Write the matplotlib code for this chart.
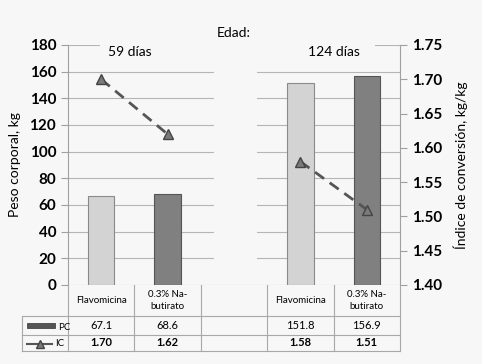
import matplotlib.pyplot as plt
import matplotlib.transforms as mtransforms
from matplotlib.patches import Rectangle
from matplotlib.lines import Line2D

# datos
grupos = ['59 días', '124 días']
pos = [0, 1, 3, 4]           # posicion 2 vacia (separador)
pc = [67.1, 68.6, 151.8, 156.9]
ic = [1.70, 1.62, 1.58, 1.51]
etiquetas = ['Flavomicina', '0.3% Na-\nbutirato', '', 'Flavomicina', '0.3% Na-\nbutirato']

bg = '#f7f7f7'
plt.rcParams['font.family'] = ['Lato', 'DejaVu Sans']

fig = plt.figure(figsize=(4.82, 3.64), dpi=100, facecolor=bg)
ax = fig.add_axes([68/482, 1-285/364, 332/482, 240/364])
ax.set_facecolor(bg)
ax2 = ax.twinx()

# barras PC
cols = ['#d3d3d3', '#808080', '#d3d3d3', '#808080']
edges = ['#8a8a8a', '#555555', '#8a8a8a', '#555555']
ax.bar(pos, pc, width=0.4, color=cols, edgecolor=edges, linewidth=0.8, zorder=3)
ax.set_xlim(-0.5, 4.5)
ax.set_ylim(0, 180)
ax.set_yticks(range(0, 181, 20))
ax.yaxis.grid(True, color='#b5b5b5', linewidth=0.8, zorder=0)
ax.set_axisbelow(True)
ax.set_xticks([])

# huecos blancos (cuadros de texto en el original)
ax.add_patch(Rectangle((1.70, 0.5), 0.65, 180, facecolor=bg, edgecolor='none', zorder=1))
ax.add_patch(Rectangle((-0.02, 172), 4.15, 12, facecolor=bg, edgecolor='none', zorder=1, clip_on=False))

# linea IC
for a, b in [(0, 2), (2, 4)]:
    ax2.plot(pos[a:b], ic[a:b], color='#555555', linestyle=(0, (4, 2.5)), linewidth=2,
             marker='^', markersize=7, markerfacecolor='#7a7a7a', markeredgecolor='#444444', zorder=4)
ax2.set_ylim(1.40, 1.75)
ax2.set_yticks([1.40, 1.45, 1.50, 1.55, 1.60, 1.65, 1.70, 1.75])

for a in (ax, ax2):
    for s in ['top', 'bottom']:
        a.spines[s].set_visible(False)
    a.spines['left'].set_color('#a0a0a0')
    a.spines['right'].set_color('#a0a0a0')
    a.tick_params(axis='y', length=5, color='#a0a0a0', labelsize=11)
    for t in a.get_yticklabels():
        t.set_fontweight('bold')
ax.spines['right'].set_visible(False)
ax2.spines['left'].set_visible(False)
ax2.yaxis.set_major_formatter(plt.FormatStrFormatter('%.2f'))

ax.set_ylabel('Peso corporal, kg', fontsize=10, labelpad=6)
ax2.set_ylabel('Índice de conversión, kg/kg', fontsize=10, labelpad=8)

# titulos
fig.text(234/482, 1-33/364, 'Edad:', ha='center', va='center', fontsize=10)
fig.text(130/482, 1-52/364, grupos[0], ha='center', va='center', fontsize=10)
fig.text(334/482, 1-52/364, grupos[1], ha='center', va='center', fontsize=10)

# tabla de datos
tr = mtransforms.blended_transform_factory(ax.transData, fig.transFigure)
def fy(px):
    return 1 - px/364
lc = '#a8a8a8'
y0, y1, y2, y3 = fy(285), fy(316), fy(335), fy(351)
xl = -0.5 - 46/66.4
for xb in [-0.5, 0.5, 1.5, 2.5, 3.5, 4.5]:
    fig.add_artist(Line2D([xb, xb], [y0, y3], color=lc, lw=0.8, transform=tr))
fig.add_artist(Line2D([xl, xl], [y1, y3], color=lc, lw=0.8, transform=tr))
for yy in [y1, y2, y3]:
    fig.add_artist(Line2D([xl, 4.5], [yy, yy], color=lc, lw=0.8, transform=tr))

for i, lab in enumerate(etiquetas):
    if lab:
        fig.text(i, (y0 + y1)/2, lab, ha='center', va='center', fontsize=7, transform=tr,
                 linespacing=1.3)
for p, v in zip(pos, pc):
    fig.text(p, (y1 + y2)/2, f'{v:.1f}', ha='center', va='center', fontsize=8, transform=tr)
for p, v in zip(pos, ic):
    fig.text(p, (y2 + y3)/2, f'{v:.2f}', ha='center', va='center', fontsize=8,
             fontweight='bold', transform=tr)

# claves de leyenda
fig.add_artist(Rectangle((27/482, fy(328)), 28/482, 5/364, facecolor='#555555',
                         edgecolor='#333333', lw=0.5, transform=fig.transFigure))
fig.text(58/482, fy(327), 'PC', fontsize=7, va='center')
fig.add_artist(Line2D([27/482, 40/482, 52/482], [fy(344), fy(344), fy(344)], color='#555555',
                      lw=1.5, marker='^', markevery=[1], markersize=6, markerfacecolor='#7a7a7a',
                      markeredgecolor='#444444', transform=fig.transFigure))
fig.text(55/482, fy(343), 'IC', fontsize=7, va='center')

fig.savefig('out.png', dpi=100, facecolor=bg)
